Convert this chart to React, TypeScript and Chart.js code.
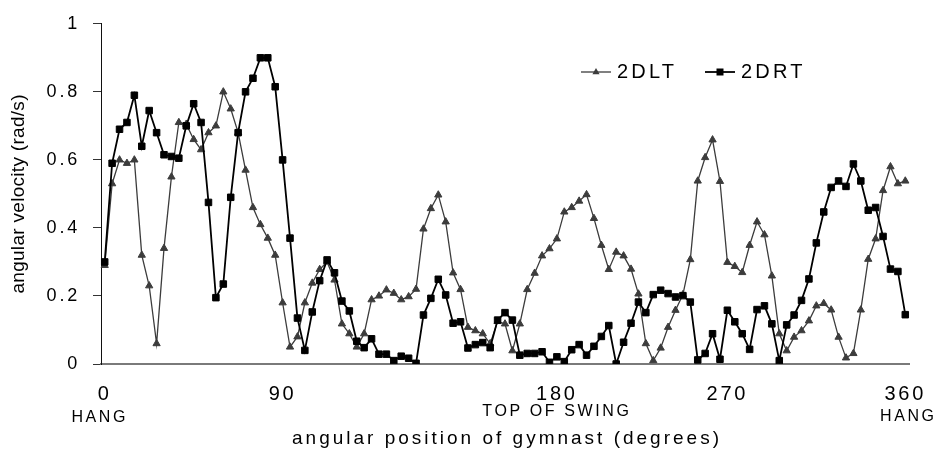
import { useEffect, useRef } from 'react';
import { Chart, registerables } from 'chart.js';

Chart.register(...registerables);

// sample index along the swing (109 samples)
const categories: string[] = Array.from({ length: 109 }, (_, i) => String(i + 1));

// angle tick labels and where they fall in the sample sequence
const tickIndices = [0, 24, 61, 84, 108];
const tickLabels = ['0', '90', '180', '270', '360'];
const positionNotes = ['HANG', '', 'TOP OF SWING', '', 'HANG'];

const yTicks = [0, 0.2, 0.4, 0.6, 0.8, 1];

const series2DLT = [
  0.29, 0.53, 0.60, 0.59, 0.60, 0.32, 0.23, 0.06, 0.34, 0.55,
  0.71, 0.705, 0.66, 0.63, 0.68, 0.70, 0.80, 0.75, 0.68, 0.57,
  0.46, 0.41, 0.37, 0.32, 0.18, 0.05, 0.08, 0.18, 0.238, 0.278,
  0.30, 0.247, 0.118, 0.089, 0.05, 0.089, 0.189, 0.20, 0.218, 0.208,
  0.189, 0.198, 0.22, 0.397, 0.457, 0.497, 0.418, 0.268, 0.219, 0.108,
  0.098, 0.089, 0.06, 0.125, 0.118, 0.039, 0.118, 0.219, 0.267, 0.318,
  0.339, 0.368, 0.447, 0.46, 0.479, 0.498, 0.428, 0.349, 0.278, 0.329,
  0.318, 0.279, 0.206, 0.06, 0.01, 0.047, 0.108, 0.158, 0.204, 0.307,
  0.538, 0.607, 0.659, 0.537, 0.299, 0.287, 0.269, 0.349, 0.418, 0.38,
  0.259, 0.089, 0.039, 0.079, 0.098, 0.127, 0.171, 0.178, 0.159, 0.079,
  0.018, 0.031, 0.159, 0.308, 0.368, 0.51, 0.58, 0.53, 0.538,
];

const series2DRT = [
  0.30, 0.59, 0.69, 0.71, 0.79, 0.64, 0.745, 0.68, 0.615, 0.61,
  0.605, 0.70, 0.765, 0.71, 0.475, 0.195, 0.235, 0.49, 0.68, 0.80,
  0.84, 0.90, 0.90, 0.815, 0.60, 0.37, 0.135, 0.04, 0.153, 0.245,
  0.306, 0.268, 0.185, 0.156, 0.067, 0.048, 0.074, 0.029, 0.029, 0.01,
  0.023, 0.017, 0.002, 0.144, 0.193, 0.249, 0.203, 0.12, 0.124, 0.047,
  0.057, 0.063, 0.048, 0.129, 0.151, 0.129, 0.026, 0.031, 0.031, 0.036,
  0.005, 0.021, 0.007, 0.042, 0.057, 0.026, 0.052, 0.081, 0.113, 0.0,
  0.064, 0.12, 0.182, 0.151, 0.204, 0.217, 0.207, 0.197, 0.201, 0.182,
  0.012, 0.031, 0.089, 0.014, 0.158, 0.124, 0.089, 0.043, 0.16, 0.171,
  0.118, 0.01, 0.115, 0.144, 0.187, 0.25, 0.356, 0.447, 0.519, 0.538,
  0.522, 0.588, 0.538, 0.452, 0.46, 0.375, 0.279, 0.272, 0.145,
];

const FONT = '"Liberation Sans", Arial, sans-serif';
const GREY = '#3c3c3c';

const decorPlugin = {
  id: 'decor',
  beforeDraw(chart: any) {
    (chart.ctx as any).letterSpacing = '2.8px';
  },
  afterDraw(chart: any) {
    const ctx = chart.ctx as CanvasRenderingContext2D;
    const xs = chart.scales.x;
    const area = chart.chartArea;
    ctx.save();
    ctx.fillStyle = '#000';
    ctx.textAlign = 'center';
    ctx.textBaseline = 'middle';

    // second-row notes under angle labels
    const noteDx = [-5, 0, 0, 0, 3];
    const noteY = [418, 0, 412, 0, 417];
    ctx.font = `16px ${FONT}`;
    (ctx as any).letterSpacing = '2.6px';
    positionNotes.forEach((n, i) => {
      if (!n) return;
      const x = xs.getPixelForValue(tickIndices[i]) + noteDx[i];
      ctx.fillText(n, x, noteY[i]);
    });

    // x-axis title
    ctx.font = `19px ${FONT}`;
    (ctx as any).letterSpacing = '3px';
    ctx.fillText('angular position of gymnast (degrees)', (area.left + area.right) / 2 + 2, 439);

    // y-axis title
    (ctx as any).letterSpacing = '0.3px';
    ctx.font = `19px ${FONT}`;
    ctx.save();
    ctx.translate(19, (area.top + area.bottom) / 2);
    ctx.rotate(-Math.PI / 2);
    ctx.fillText('angular velocity (rad/s)', 0, 0);
    ctx.restore();

    // legend
    const ly = 72;
    const items = [
      { label: '2DLT', x0: 581, color: GREY, marker: 'tri', lw: 1.3 },
      { label: '2DRT', x0: 705, color: '#000', marker: 'rect', lw: 1.8 },
    ];
    items.forEach((it) => {
      ctx.strokeStyle = it.color;
      ctx.fillStyle = it.color;
      ctx.lineWidth = it.lw;
      ctx.beginPath();
      ctx.moveTo(it.x0, ly);
      ctx.lineTo(it.x0 + 30, ly);
      ctx.stroke();
      const mx = it.x0 + 15;
      ctx.beginPath();
      if (it.marker === 'tri') {
        ctx.moveTo(mx, ly - 4);
        ctx.lineTo(mx + 3.6, ly + 2.2);
        ctx.lineTo(mx - 3.6, ly + 2.2);
        ctx.closePath();
      } else {
        ctx.rect(mx - 3.5, ly - 3.5, 7, 7);
      }
      ctx.fill();
      ctx.fillStyle = '#000';
      ctx.font = `20px ${FONT}`;
      (ctx as any).letterSpacing = '3.2px';
      ctx.textAlign = 'left';
      ctx.fillText(it.label, it.x0 + 36, ly);
    });
    ctx.restore();
  },
};

export default function App() {
  const ref = useRef<HTMLCanvasElement | null>(null);
  useEffect(() => {
    if (!ref.current) return;
    const chart = new Chart(ref.current, {
      type: 'line',
      data: {
        labels: categories,
        datasets: [
          {
            label: '2DLT',
            data: series2DLT,
            borderColor: GREY,
            backgroundColor: GREY,
            borderWidth: 1.3,
            pointStyle: 'triangle',
            pointRadius: 4.2,
            pointBackgroundColor: GREY,
            pointBorderColor: GREY,
            pointBorderWidth: 1,
            tension: 0,
            order: 1,
          },
          {
            label: '2DRT',
            data: series2DRT,
            borderColor: '#000',
            backgroundColor: '#000',
            borderWidth: 1.8,
            pointStyle: 'rect',
            pointRadius: 4.6,
            pointBackgroundColor: '#000',
            pointBorderColor: '#000',
            pointBorderWidth: 1,
            tension: 0,
            order: 0,
          },
        ],
      },
      options: {
        responsive: false,
        animation: false,
        events: [],
        layout: { padding: { top: 18, right: 34, left: 0, bottom: 0 } },
        plugins: { legend: { display: false }, tooltip: { enabled: false } },
        scales: {
          x: {
            type: 'category',
            offset: true,
            grid: { display: false, drawTicks: false },
            border: { display: true, color: '#7a7a7a', width: 2 },
            ticks: {
              autoSkip: false,
              maxRotation: 0,
              minRotation: 0,
              padding: 18,
              color: '#000',
              font: { family: FONT, size: 20 },
              callback: (_v: any, i: number) => {
                const k = tickIndices.indexOf(i);
                return k >= 0 ? tickLabels[k] : '';
              },
            },
            afterFit: (s: any) => {
              s.height = 85;
            },
          },
          y: {
            min: 0,
            max: 1,
            afterBuildTicks: (s: any) => {
              s.ticks = yTicks.map((v) => ({ value: v }));
            },
            grid: { drawOnChartArea: false, drawTicks: true, tickLength: 8, color: '#333' },
            border: { display: true, color: '#111', width: 1 },
            ticks: {
              padding: 13,
              color: '#000',
              font: { family: FONT, size: 18 },
              callback: (v: any) => String(Number(Number(v).toFixed(1))),
            },
            afterFit: (s: any) => {
              s.width = 101;
            },
          },
        },
      },
      plugins: [decorPlugin],
    });
    return () => chart.destroy();
  }, []);
  return (
    <div style={{ position: 'fixed', left: 0, top: 0, width: 943, height: 449, background: '#fff' }}>
      <canvas ref={ref} width={943} height={449} style={{ width: 943, height: 449, display: 'block' }} />
    </div>
  );
}
